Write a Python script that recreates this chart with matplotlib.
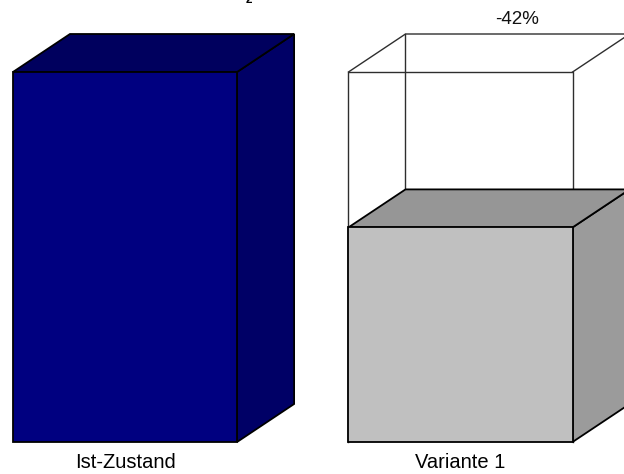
import matplotlib
matplotlib.use("Agg")
import matplotlib.pyplot as plt
from matplotlib.patches import Polygon

plt.rcParams['font.family'] = ['Liberation Sans', 'DejaVu Sans']
plt.rcParams['mathtext.fontset'] = 'custom'
plt.rcParams['mathtext.rm'] = 'Liberation Sans'
plt.rcParams['mathtext.bf'] = 'Liberation Sans:bold'

# Data
categories = ["Ist-Zustand", "Variante 1"]
values = [100, 58]
change_label = "-42%"
title = r"CO$_\mathbf{2}$-Emissionen in t/Jahr"

# Box colours: (front, top, side)
box_colors = [
    ("#000080", "#00005E", "#000066"),
    ("#C0C0C0", "#969696", "#9B9B9B"),
]

# 3D box geometry (data units)
bar_w = 0.668
depth_x = 0.17
depth_y = 10.27

fig = plt.figure(figsize=(6.24, 4.74), dpi=100)
ax = fig.add_axes([0, 0, 1, 1])
ax.set_xlim(-0.3726, 1.4873)
ax.set_ylim(-8.65, 119.46)
ax.axis("off")


def box_faces(xc, h):
    x0, x1 = xc - bar_w / 2, xc + bar_w / 2
    front = [(x0, 0), (x1, 0), (x1, h), (x0, h)]
    top = [(x0, h), (x1, h), (x1 + depth_x, h + depth_y), (x0 + depth_x, h + depth_y)]
    side = [(x1, 0), (x1 + depth_x, depth_y), (x1 + depth_x, h + depth_y), (x1, h)]
    return front, top, side


def draw_box(xc, h, colors, z, lw=1.3, ec="black"):
    front, top, side = box_faces(xc, h)
    for pts, fc in zip((side, top, front), (colors[2], colors[1], colors[0])):
        ax.add_patch(Polygon(pts, closed=True, facecolor=fc, edgecolor=ec,
                             linewidth=lw, joinstyle="miter", zorder=z))


def draw_outline(xc, h, z):
    # open wireframe showing the reference height
    x0, x1 = xc - bar_w / 2, xc + bar_w / 2
    segs = [
        [(x0, 0), (x0, h), (x1, h), (x1, 0)],
        [(x0, h), (x0 + depth_x, h + depth_y), (x1 + depth_x, h + depth_y), (x1, h)],
        [(x0 + depth_x, h + depth_y), (x0 + depth_x, depth_y)],
        [(x1 + depth_x, h + depth_y), (x1 + depth_x, depth_y)],
    ]
    for s in segs:
        xs, ys = zip(*s)
        ax.plot(xs, ys, color="#2e2e2e", linewidth=1.0, zorder=z)


for i, (cat, v) in enumerate(zip(categories, values)):
    if i > 0:
        draw_outline(i, values[0], z=1)
    draw_box(i, v, box_colors[i], z=2)
    ax.text(i, -7.16, cat, ha="center", va="baseline", fontsize=14.5, color="black")

ax.text(1 + depth_x, 113.0, change_label, ha="center", va="baseline",
        fontsize=13.5, color="#111111")

fig.text(220 / 624, 1.0, title, ha="left", va="baseline", fontsize=12,
         fontweight="bold")

fig.savefig("out.png", dpi=100)
